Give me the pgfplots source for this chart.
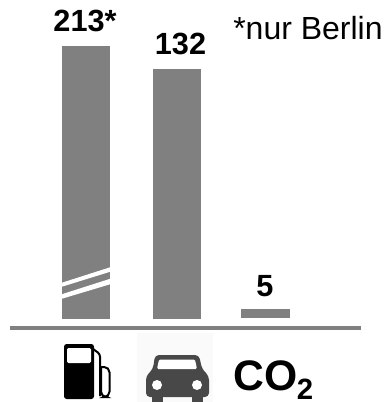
\documentclass[border=0pt]{standalone}
\usepackage{pgfplots}
\pgfplotsset{compat=1.18}
\usepackage{fontspec}
\setmainfont{Liberation Sans}
\definecolor{barg}{HTML}{808080}
\definecolor{cardark}{HTML}{484848}
\pgfplotsset{panel/.style={
  at={(0,0)}, anchor=north west, scale only axis,
  width=288.75pt, height=301.5pt,
  xmin=0, xmax=385, hide axis, clip=false,
  ybar, bar shift=0pt, axis on top=false}}
\begin{document}
\begin{tikzpicture}[x=0.75pt,y=-0.75pt]
\useasboundingbox (0,0) rectangle (385,402);
% Petrol column: its own scale, the bar is interrupted
\begin{axis}[panel, ymin=-64.76, ymax=248.9]
  \addplot[fill=barg, draw=none, bar width=36pt] coordinates {(86,213)};
  \node[font=\bfseries\fontsize{23}{24}\selectfont, anchor=base, inner sep=0pt] at (axis cs:85,224.5) {213*};
\end{axis}
% Car and CO2 columns on the common scale
\begin{axis}[panel, ymin=-43.82, ymax=168.43]
  \addplot[fill=barg, draw=none, bar width=36pt] coordinates {(177,132)};
  \addplot[fill=barg, draw=none, bar width=36.75pt, yshift=0.75pt] coordinates {(265.5,5)};
  \node[font=\bfseries\fontsize{23}{24}\selectfont, anchor=base, inner sep=0pt] at (axis cs:180.5,139.8) {132};
  \node[font=\bfseries\fontsize{23}{24}\selectfont, anchor=base, inner sep=0pt] at (axis cs:265,11.8) {5};
\end{axis}
% Break marks across the petrol column
\fill[white] (61,287) -- (111,271.5) -- (111,267) -- (61,283) -- cycle;
\fill[white] (61,299) -- (111,284) -- (111,278.5) -- (61,294.5) -- cycle;
% Baseline
\fill[barg] (10,326) rectangle (361,330);
% Footnote
\node[font=\fontsize{24}{25}\selectfont, anchor=base west, inner sep=0pt] at (233,40) {*nur Berlin};
% Fuel pump symbol
\fill[black, rounded corners=2pt] (64,399) -- (64,344) -- (94,344) -- (94,399) -- cycle;
\fill[white, rounded corners=1pt] (67,363) -- (67,348) -- (91,348) -- (91,363) -- cycle;
\draw[black, line width=1.5pt, rounded corners=2pt] (93,349) -- (100,354) -- (100,396);
\draw[black, line width=1.5pt, rounded corners=4pt] (100,367) -- (109.5,367) -- (109.5,397) -- (101,397) -- (101,367);
% Car symbol
\fill[white!98!black] (137,333) rectangle (213,402);
\fill[cardark, rounded corners=3pt] (146,397) -- (146,376) -- (153,369) -- (155,355) -- (199,355) -- (202,369) -- (209,376) -- (209,397) -- cycle;
\fill[cardark] (152,396) rectangle (163,402);
\fill[cardark] (192,396) rectangle (203,402);
\fill[white, rounded corners=1pt] (157,369) -- (159,359.5) -- (195,359.5) -- (197,369) -- cycle;
\fill[white] (157,385) circle[radius=5];
\fill[white] (197,385) circle[radius=5];
% Pollutant symbol
\node[font=\bfseries\fontsize{32}{33}\selectfont, anchor=base west, inner sep=0pt] at (233,390) {CO};
\node[font=\bfseries\fontsize{22}{23}\selectfont, anchor=base west, inner sep=0pt] at (296.5,399.5) {2};
\end{tikzpicture}
\end{document}
